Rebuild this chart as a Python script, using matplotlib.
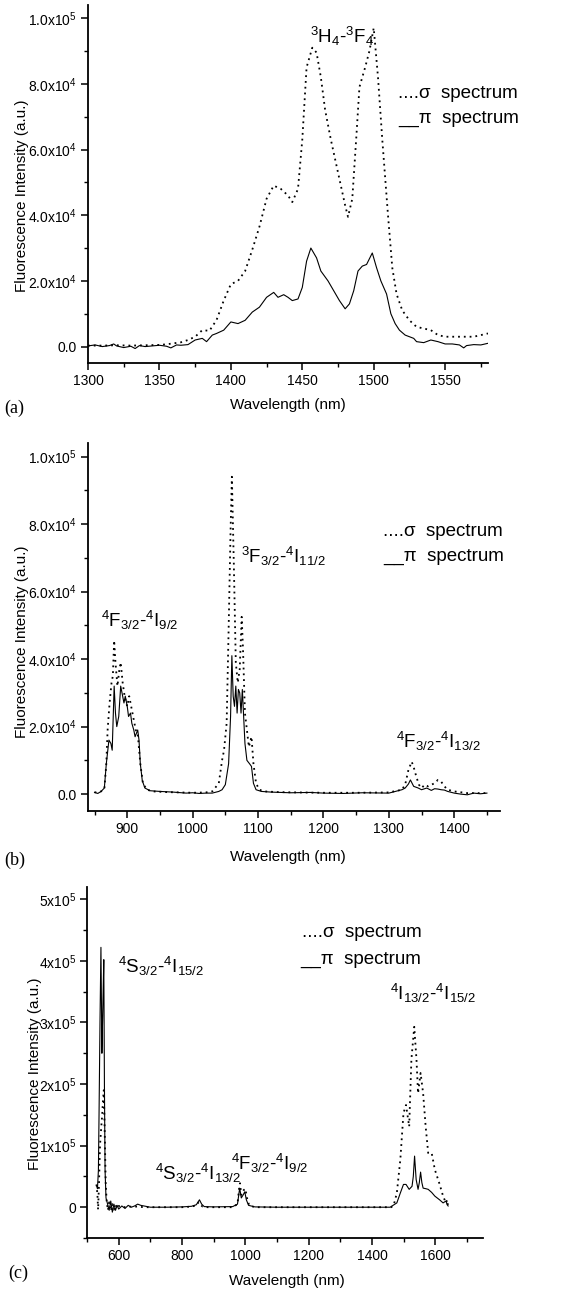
import matplotlib
matplotlib.use("Agg")
import matplotlib.pyplot as plt
from matplotlib.ticker import MultipleLocator

plt.rcParams['font.family'] = ['Liberation Sans', 'DejaVu Sans']
plt.rcParams['mathtext.fontset'] = 'custom'
plt.rcParams['mathtext.rm'] = 'Liberation Sans'
plt.rcParams['mathtext.it'] = 'Liberation Sans:italic'
plt.rcParams['mathtext.bf'] = 'Liberation Sans:bold'

# ---------------- data (intensity in units of 1e3) ----------------
A_SIGMA_NM = [1300, 1310, 1320, 1330, 1340, 1350, 1355, 1360, 1365, 1370, 1375, 1380, 1385, 1390, 1395,
              1400, 1405, 1410, 1415, 1420, 1425, 1430, 1435, 1440, 1443, 1447, 1450, 1453, 1457, 1460,
              1463, 1466, 1470, 1475, 1480, 1482, 1485, 1488, 1490, 1494, 1497, 1500, 1503, 1506, 1510,
              1513, 1516, 1520, 1525, 1530, 1535, 1540, 1545, 1550, 1560, 1570, 1580]
A_SIGMA_K = [0.3, 0.3, 0.4, 0.3, 0.4, 0.5, 0.7, 1.0, 1.3, 2.0, 3.0, 5.0, 4.8, 8.1, 14,
             19, 20, 23, 29.5, 36.5, 45, 49, 48, 46, 44, 48, 63, 85, 91, 89.5,
             82, 72, 63, 53, 43, 39.5, 45, 65, 79, 85, 90, 97, 82, 63, 40,
             24, 16, 11, 8, 6, 5.5, 5, 3.5, 3, 3, 3, 4]
A_PI_NM = [1300, 1305, 1310, 1315, 1318, 1320, 1325, 1330, 1333, 1336, 1340, 1345, 1350, 1355, 1358,
           1362, 1365, 1370, 1375, 1380, 1383, 1387, 1390, 1395, 1400, 1405, 1410, 1415, 1420, 1425,
           1430, 1433, 1437, 1440, 1443, 1447, 1450, 1453, 1456, 1460, 1463, 1468, 1472, 1476, 1480,
           1483, 1486, 1489, 1492, 1495, 1499, 1502, 1505, 1509, 1512, 1515, 1518, 1522, 1525, 1528,
           1530, 1535, 1540, 1545, 1550, 1555, 1560, 1563, 1565, 1570, 1575, 1580]
A_PI_K = [0.2, 0.5, 0.0, 0.3, 0.8, 0.2, -0.3, 0.1, -0.6, 0.3, 0.0, 0.2, 0.4, 0.1, -0.4,
          0.5, 0.4, 0.6, 2.0, 2.5, 1.5, 3.5, 4.0, 5.0, 7.5, 7.0, 8.0, 10.5, 12, 15,
          16.5, 15, 15.8, 15, 14, 14.5, 18, 26, 30, 27, 23, 20, 17, 14, 11.5,
          13, 17, 23, 24.5, 25, 28.5, 24, 20, 16, 10, 7, 5, 3.5, 3, 2.5,
          1.5, 1.2, 2, 1.5, 0.8, 0.8, 0.5, -0.4, 0.3, 0.6, 0.5, 1.0]

B_SIGMA_NM = [850, 855, 860, 865, 868, 870, 873, 876, 878, 880, 882, 885, 888, 890, 893, 896, 900, 903,
              906, 910, 913, 916, 920, 924, 930, 940, 960, 980, 1000, 1020, 1030, 1040, 1045, 1048,
              1052, 1055, 1058, 1060, 1063, 1066, 1069, 1072, 1075, 1077, 1080, 1083, 1086, 1090, 1093,
              1097, 1102, 1110, 1130, 1160, 1200, 1250, 1300, 1320, 1325, 1330, 1335, 1338, 1342, 1346,
              1350, 1355, 1360, 1365, 1370, 1375, 1380, 1385, 1390, 1400, 1420, 1450]
B_SIGMA_K = [0.5, 0.6, 0.8, 1.5, 9, 19, 27, 33, 35, 45.5, 39, 32, 37, 39, 33, 29, 26, 29,
             26, 22, 19, 18, 9, 3.2, 1.3, 0.8, 0.6, 0.5, 0.4, 0.5, 0.8, 3.2, 10, 13,
             21, 48.5, 78, 94, 68, 39, 33, 37, 52.5, 43, 24, 19, 14, 17, 9,
             3.2, 1.3, 0.8, 0.6, 0.5, 0.4, 0.4, 0.5, 1.3, 2.8, 7.2, 9.6, 8, 5.2, 2.8,
             1.8, 2.8, 2.3, 2.8, 3.2, 4.2, 3.7, 2.3, 1.3, 0.8, 0.3, 0.3]
B_PI_NM = [850, 855, 860, 865, 868, 870, 872, 875, 877, 880, 882, 884, 887, 890, 892, 895, 897, 900,
           902, 905, 907, 910, 912, 914, 916, 918, 920, 923, 927, 935, 950, 970, 990, 1000, 1010,
           1020, 1030, 1040, 1045, 1050, 1055, 1058, 1060, 1062, 1064, 1066, 1068, 1070, 1072, 1074,
           1076, 1078, 1080, 1083, 1087, 1090, 1093, 1097, 1105, 1120, 1150, 1180, 1200, 1230, 1260,
           1300, 1320, 1325, 1330, 1333, 1338, 1345, 1350, 1358, 1365, 1370, 1375, 1380, 1385, 1390,
           1400, 1410, 1420, 1430, 1440, 1450]
B_PI_K = [0.5, 0.2, 0.8, 1.8, 9, 12.5, 16, 15, 13, 32, 24, 20, 23, 32, 30, 27, 29, 26,
          23, 24, 21, 19, 17, 18, 19, 16, 9, 4, 1.8, 1.0, 0.8, 0.6, 0.3, 0.4, 0.2,
          0.3, 0.3, 0.8, 1.3, 2.8, 9, 23, 41, 29, 26, 32, 24, 31, 30, 24,
          31, 23, 15, 10, 9, 8.2, 3.2, 1.3, 0.8, 0.6, 0.4, 0.5, 0.3, 0.2, 0.4,
          0.3, 1.3, 1.8, 3.0, 4.2, 2.3, 1.8, 1.3, 1.8, 1.1, 1.6, 1.5, 1.3, 1.2, 0.8,
          0.3, 0.0, -0.2, 0.3, 0.1, 0.3]

C_SIGMA_NM = [530, 533, 535, 538, 541, 545, 548, 550, 553, 556, 559, 562, 566, 570, 575, 580, 585, 590,
              595, 600, 610, 620, 640, 660, 680, 700, 750, 800, 830, 845, 852, 858, 865, 880, 920, 960,
              975, 980, 983, 987, 991, 995, 1000, 1005, 1012, 1030, 1100, 1200, 1300, 1400, 1460, 1468,
              1478, 1489, 1499, 1507, 1517, 1524, 1533, 1540, 1545, 1553, 1561, 1569, 1577, 1588, 1598,
              1612, 1624, 1633, 1637, 1640]
C_SIGMA_K = [37, 20, -4, 40, 100, 130, 150, 170, 190, 120, 40, 10, -5, 8, -6, 5, -4, 4,
             -2, 2, 1, 0, 1, 1, 0, 0, 0, 0, 1, 3, 8, 4, 1, 0, 0, 0,
             5, 30, 39, 20, 25, 28, 30, 15, 3, 0, 0, 0, 0, 0, 0, 3,
             23, 77, 153, 166, 131, 240, 293, 240, 185, 218, 185, 131, 88, 88, 61,
             39, 18, 7, 12, -1]
C_PI_NM = [530, 533, 536, 538, 541, 544, 547, 549, 551, 553, 555, 557, 560, 565, 570, 575, 580, 585,
           590, 595, 600, 610, 620, 630, 640, 650, 660, 670, 680, 700, 750, 800, 830, 845, 855, 862,
           870, 900, 960, 975, 982, 987, 993, 998, 1003, 1010, 1030, 1100, 1200, 1300, 1400, 1457,
           1478, 1489, 1499, 1507, 1517, 1526, 1530, 1534, 1539, 1545, 1549, 1553, 1557, 1561, 1570,
           1577, 1588, 1598, 1613, 1624, 1633, 1637, 1640]
C_PI_K = [35, 30, 60, 150, 300, 422, 250, 300, 350, 402, 200, 60, 15, 5, -5, 10, -8, 5,
          -5, 3, -3, 2, -2, 3, 0, 2, 5, 3, 2, 0, 0, 0.5, 1.5, 4, 12, 5,
          1, 0.5, 1, 5, 31, 15, 20, 25, 12, 3, 0.5, 0, 0, 0, 0, 0,
          7, 23, 37, 37, 29, 34, 50, 83, 45, 29, 40, 57, 40, 31, 30,
          29, 24, 18, 12, 7, 10, 4, 2]

AB_YTICKS = [0, 20000, 40000, 60000, 80000, 100000]
AB_YLABELS = ['0.0', '2.0x10$^4$', '4.0x10$^4$', '6.0x10$^4$', '8.0x10$^4$', '1.0x10$^5$']
C_YTICKS = [0, 100000, 200000, 300000, 400000, 500000]
C_YLABELS = ['0', '1x10$^5$', '2x10$^5$', '3x10$^5$', '4x10$^5$', '5x10$^5$']
A_XTICKS = [1300, 1350, 1400, 1450, 1500, 1550]
B_XTICKS = [900, 1000, 1100, 1200, 1300, 1400]
C_XTICKS = [600, 800, 1000, 1200, 1400, 1600]

SIGMA_LABEL = '....σ  spectrum'
PI_LABEL = '__π  spectrum'

# ---------------- figure ----------------
W, H = 574, 1292
fig = plt.figure(figsize=(W / 100, H / 100), dpi=100)
fig.patch.set_facecolor('white')


def add_axes(l, t, r, b):
    return fig.add_axes([l / W, 1 - b / H, (r - l) / W, (b - t) / H])


def ptxt(x, y, s, **kw):
    fig.text(x / W, 1 - y / H, s, **kw)


def style(ax, xlim, ylim, xticks, xminor, yticks, ylabels, yminor):
    ax.set_xlim(*xlim)
    ax.set_ylim(*ylim)
    for s in ('top', 'right'):
        ax.spines[s].set_visible(False)
    for s in ('left', 'bottom'):
        ax.spines[s].set_linewidth(1.3)
    ax.set_xticks(xticks)
    ax.set_xticklabels([str(t) for t in xticks])
    ax.xaxis.set_minor_locator(MultipleLocator(xminor))
    ax.set_yticks(yticks)
    ax.set_yticklabels(ylabels)
    ax.yaxis.set_minor_locator(MultipleLocator(yminor))
    ax.tick_params(which='major', direction='out', length=5, width=1.1, labelsize=10, pad=3)
    ax.tick_params(which='minor', direction='out', length=3, width=1.0)


def plot_pair(ax, sx, sk, px, pk):
    ax.plot(sx, [v * 1000 for v in sk], color='black', lw=1.3, linestyle=(0, (1, 2.2)))
    ax.plot(px, [v * 1000 for v in pk], color='black', lw=0.8)


ANN = dict(fontsize=13.5, color='black', va='baseline', ha='left')
LEG = dict(fontsize=13.5, color='black', va='baseline', ha='left')
XL = dict(fontsize=11, ha='center', va='center')
YL = dict(fontsize=11, ha='center', va='center', rotation=90)
PL = dict(fontsize=13, ha='left', va='center', family=['Liberation Serif', 'DejaVu Serif'])

# ---- panel (a)
ax = add_axes(88, 5, 488, 363)
plot_pair(ax, A_SIGMA_NM, A_SIGMA_K, A_PI_NM, A_PI_K)
style(ax, (1300, 1580), (-5000, 104000), A_XTICKS, 25, AB_YTICKS, AB_YLABELS, 10000)
ptxt(310, 43, r'$^{3}$H$_{4}$-$^{3}$F$_{4}$', **ANN)
ptxt(398, 98, SIGMA_LABEL, **LEG)
ptxt(398, 123, PI_LABEL, **LEG)
ptxt(288, 405, 'Wavelength (nm)', **XL)
ptxt(22, 196, 'Fluorescence Intensity (a.u.)', **YL)
ptxt(4, 408, '(a)', **PL)

# ---- panel (b)
ax = add_axes(88, 443, 500, 811)
plot_pair(ax, B_SIGMA_NM, B_SIGMA_K, B_PI_NM, B_PI_K)
style(ax, (840, 1470), (-5000, 104000), B_XTICKS, 50, AB_YTICKS, AB_YLABELS, 10000)
ptxt(101, 627, r'$^{4}$F$_{3/2}$-$^{4}$I$_{9/2}$', **ANN)
ptxt(241, 563, r'$^{3}$F$_{3/2}$-$^{4}$I$_{11/2}$', **ANN)
ptxt(396, 748, r'$^{4}$F$_{3/2}$-$^{4}$I$_{13/2}$', **ANN)
ptxt(383, 536, SIGMA_LABEL, **LEG)
ptxt(383, 561, PI_LABEL, **LEG)
ptxt(288, 857, 'Wavelength (nm)', **XL)
ptxt(22, 642, 'Fluorescence Intensity (a.u.)', **YL)
ptxt(4, 860, '(b)', **PL)

# ---- panel (c)
ax = add_axes(87, 887, 483, 1238)
plot_pair(ax, C_SIGMA_NM, C_SIGMA_K, C_PI_NM, C_PI_K)
style(ax, (500, 1750), (-50000, 520000), C_XTICKS, 100, C_YTICKS, C_YLABELS, 50000)
ptxt(118, 973, r'$^{4}$S$_{3/2}$-$^{4}$I$_{15/2}$', **ANN)
ptxt(155, 1180, r'$^{4}$S$_{3/2}$-$^{4}$I$_{13/2}$', **ANN)
ptxt(231, 1170, r'$^{4}$F$_{3/2}$-$^{4}$I$_{9/2}$', **ANN)
ptxt(390, 1000, r'$^{4}$I$_{13/2}$-$^{4}$I$_{15/2}$', **ANN)
ptxt(302, 937, SIGMA_LABEL, **LEG)
ptxt(300, 964, PI_LABEL, **LEG)
ptxt(287, 1281, 'Wavelength (nm)', **XL)
ptxt(35, 1074, 'Fluorescence Intensity (a.u.)', **YL)
ptxt(8, 1273, '(c)', **PL)

fig.savefig('out.png', dpi=100, facecolor='white')
